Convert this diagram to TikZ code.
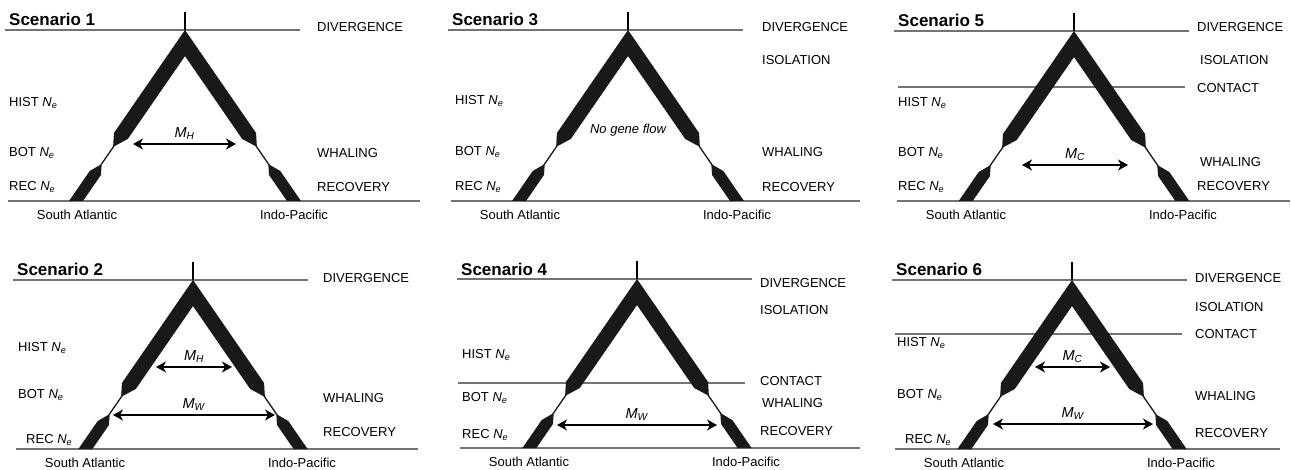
\documentclass[tikz,border=0pt]{standalone}
\usepackage{fontspec}
\setmainfont{Liberation Sans}
\usetikzlibrary{arrows.meta}

\newcommand\Ne{\textit{N}\textsubscript{\textit{e}}}
\newcommand\mig[1]{\textit{M}\textsubscript{\textit{#1}}}
\def\sl{0.69}

\tikzset{
  rule/.style={draw=black!55, line width=1.1pt},
  stem/.style={draw=black, line width=1.5pt},
  leg/.style={fill=black!90},
  title/.style={font=\fontsize{17}{20}\selectfont\bfseries, anchor=base west, inner sep=0pt},
  lab/.style={font=\fontsize{13}{15}\selectfont, anchor=west, inner sep=0pt},
  ocean/.style={font=\fontsize{13}{15}\selectfont, inner sep=0pt},
  flow/.style={{Stealth[length=10pt,width=11pt,inset=3pt]}-{Stealth[length=10pt,width=11pt,inset=3pt]}, line width=1.3pt},
  rate/.style={font=\fontsize{14.5}{16}\selectfont, above=4pt, inner sep=0pt},
}

% one branch of the tree, #1 = height
\newcommand\branch[1]{%
  \fill[leg] (0,0) -- ({-\sl*103},103) -- ({9-\sl*116-0.8},116)
    -- ({9-\sl*135-0.8},135) -- ({9-\sl*141-7},141) -- ({9-\sl*#1-7},#1)
    -- ({9-\sl*#1+7},#1) -- ({9-\sl*145+7},145) -- ({9-\sl*135+0.8},135)
    -- ({9-\sl*116+0.8},116) -- ({9-\sl*109+9},109) -- (0,{18/\sl}) -- cycle;}

% frame of a scenario: #1 height, #2 right end of base line, #3 number
\newcommand\scenario[3]{%
  \node[title] (title#3) at (-176,-4) {Scenario #3};
  \draw[rule] (-180,0) -- (115,0);
  \draw[rule] (-177,#1) -- (#2,#1);
  \branch{#1}
  \begin{scope}[xscale=-1]\branch{#1}\end{scope}
  \draw[stem] (0,-18) -- (0,0);
  \node[ocean] (sa#3) at (-108,#1+14) {South Atlantic};
  \node[ocean] (ip#3) at (109,#1+14) {Indo-Pacific};}

\begin{document}
\begin{tikzpicture}[x=1pt,y=-1pt]
\useasboundingbox (0,0) rectangle (1292,470);

% Scenario 1
\begin{scope}[shift={(185,30)}]
  \scenario{171}{235}{1}
  \node[lab] (div1) at (132,-3) {DIVERGENCE};
  \node[lab] (hist1) at (-176,73) {HIST \Ne};
  \node[lab] (bot1) at (-176,123) {BOT \Ne};
  \node[lab] (rec1) at (-176,157) {REC \Ne};
  \node[lab] (wha1) at (132,123) {WHALING};
  \node[lab] (recov1) at (132,157) {RECOVERY};
  \coordinate (mh1a) at (-52,114);
  \coordinate (mh1b) at (51,114);
  \draw[flow] (mh1a) -- node[rate] (mhlab1) {\mig{H}} (mh1b);
\end{scope}

% Scenario 3
\begin{scope}[shift={(628,30)}]
  \scenario{171}{232}{3}
  \node[lab] (div3) at (134,-3) {DIVERGENCE};
  \node[lab] (iso3) at (134,30) {ISOLATION};
  \node[lab] (hist3) at (-173,71) {HIST \Ne};
  \node[lab] (bot3) at (-173,122) {BOT \Ne};
  \node[lab] (rec3) at (-173,157) {REC \Ne};
  \node[lab] (wha3) at (134,122) {WHALING};
  \node[lab] (recov3) at (134,157) {RECOVERY};
  \node[ocean, font=\fontsize{13}{15}\selectfont\itshape] (nogf3) at (0,100) {No gene flow};
\end{scope}

% Scenario 5
\begin{scope}[shift={(1074,31)}]
  \draw[rule] (-176,56) -- (111,56);
  \scenario{170}{216}{5}
  \node[lab] (div5) at (123,-4) {DIVERGENCE};
  \node[lab] (iso5) at (126,29) {ISOLATION};
  \node[lab] (con5) at (123,57) {CONTACT};
  \node[lab] (hist5) at (-176,72) {HIST \Ne};
  \node[lab] (bot5) at (-176,122) {BOT \Ne};
  \node[lab] (rec5) at (-176,156) {REC \Ne};
  \node[lab] (wha5) at (126,131) {WHALING};
  \node[lab] (recov5) at (123,155) {RECOVERY};
  \coordinate (mc5a) at (-52,134);
  \coordinate (mc5b) at (54,134);
  \draw[flow] (mc5a) -- node[rate] (mclab5) {\mig{C}} (mc5b);
\end{scope}

% Scenario 2
\begin{scope}[shift={(193,280)}]
  \scenario{169}{225}{2}
  \node[lab] (div2) at (130,-2) {DIVERGENCE};
  \node[lab] (hist2) at (-175,68) {HIST \Ne};
  \node[lab] (bot2) at (-175,115) {BOT \Ne};
  \node[lab] (rec2) at (-167,160) {REC \Ne};
  \node[lab] (wha2) at (130,118) {WHALING};
  \node[lab] (recov2) at (130,152) {RECOVERY};
  \coordinate (mh2a) at (-37,87);
  \coordinate (mh2b) at (39,87);
  \draw[flow] (mh2a) -- node[rate] (mhlab2) {\mig{H}} (mh2b);
  \coordinate (mw2a) at (-80,135);
  \coordinate (mw2b) at (82,135);
  \draw[flow] (mw2a) -- node[rate] (mwlab2) {\mig{W}} (mw2b);
\end{scope}

% Scenario 4
\begin{scope}[shift={(637,279)}]
  \draw[rule] (-179,104) -- (108,104);
  \scenario{169}{223}{4}
  \node[lab] (div4) at (123,4) {DIVERGENCE};
  \node[lab] (iso4) at (123,31) {ISOLATION};
  \node[lab] (con4) at (123,102) {CONTACT};
  \node[lab] (hist4) at (-175,76) {HIST \Ne};
  \node[lab] (bot4) at (-175,119) {BOT \Ne};
  \node[lab] (rec4) at (-175,156) {REC \Ne};
  \node[lab] (wha4) at (125,124) {WHALING};
  \node[lab] (recov4) at (123,152) {RECOVERY};
  \coordinate (mw4a) at (-80,146);
  \coordinate (mw4b) at (80,146);
  \draw[flow] (mw4a) -- node[rate] (mwlab4) {\mig{W}} (mw4b);
\end{scope}

% Scenario 6
\begin{scope}[shift={(1072,280)}]
  \draw[rule] (-177,54) -- (110,54);
  \scenario{169}{208}{6}
  \node[lab] (div6) at (123,-2) {DIVERGENCE};
  \node[lab] (iso6) at (123,27) {ISOLATION};
  \node[lab] (con6) at (123,54) {CONTACT};
  \node[lab] (hist6) at (-175,63) {HIST \Ne};
  \node[lab] (bot6) at (-175,115) {BOT \Ne};
  \node[lab] (rec6) at (-167,160) {REC \Ne};
  \node[lab] (wha6) at (123,116) {WHALING};
  \node[lab] (recov6) at (123,153) {RECOVERY};
  \coordinate (mc6a) at (-37,87);
  \coordinate (mc6b) at (38,87);
  \draw[flow] (mc6a) -- node[rate] (mclab6) {\mig{C}} (mc6b);
  \coordinate (mw6a) at (-79,144);
  \coordinate (mw6b) at (81,144);
  \draw[flow] (mw6a) -- node[rate] (mwlab6) {\mig{W}} (mw6b);
\end{scope}
\end{tikzpicture}
\end{document}
